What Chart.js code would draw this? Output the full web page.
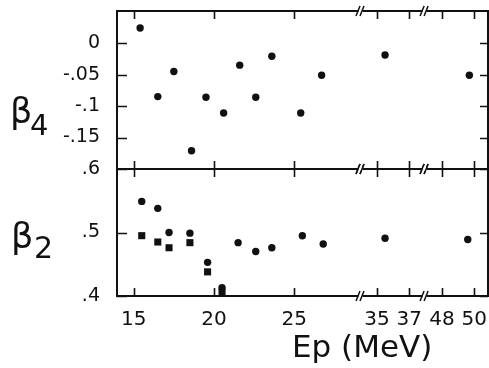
<!DOCTYPE html>
<html><head><meta charset="utf-8">
<script src="https://cdn.jsdelivr.net/npm/chart.js@4"></script>
<style>
html,body{margin:0;padding:0;background:#fff;width:489px;height:368px;overflow:hidden;}
#w{position:relative;width:489px;height:368px;}
canvas{position:absolute;left:0;}
#c1{top:0;}
#c2{top:150px;}
.lbl{position:absolute;font-family:"DejaVu Sans";color:#111;line-height:1;white-space:nowrap;}
</style></head>
<body>
<div id="w">
<canvas id="c1" width="489" height="180"></canvas>
<canvas id="c2" width="489" height="218"></canvas>
<div class="lbl" style="left:10px;top:94px;font-size:35px;">β</div>
<div class="lbl" style="left:30px;top:111px;font-size:29px;">4</div>
<div class="lbl" style="left:11px;top:219px;font-size:35px;">β</div>
<div class="lbl" style="left:34px;top:233px;font-size:30px;">2</div>
<div class="lbl" style="left:292px;top:331px;font-size:31px;">Ep (MeV)</div>
</div>
<script>
// ---- data (Ep in MeV) ----
const b4Energy = [15.4, 16.5, 17.5, 18.6, 19.5, 20.6, 21.6, 22.6, 23.6, 25.4, 26.7, 35.5, 49.7];
const b4Values = [0.024, -0.085, -0.045, -0.171, -0.086, -0.111, -0.035, -0.086, -0.021, -0.111, -0.051, -0.019, -0.051];
const b2CircleEnergy = [15.5, 16.5, 17.2, 18.5, 19.6, 20.5, 21.5, 22.6, 23.6, 25.5, 26.8, 35.5, 49.6];
const b2CircleValues = [0.549, 0.538, 0.500, 0.499, 0.453, 0.413, 0.484, 0.470, 0.476, 0.495, 0.482, 0.491, 0.489];
const b2SquareEnergy = [15.5, 16.5, 17.2, 18.5, 19.6, 20.5];
const b2SquareValues = [0.495, 0.485, 0.476, 0.484, 0.438, 0.406];
const xTickLabels = [15, 20, 25, 35, 37, 48, 50];
const b4Ticks = [-0.15, -0.1, -0.05, 0];
const b2Ticks = [0.4, 0.5, 0.6];

// broken-axis mapping (Ep -> axis coordinate)
function axisPos(E) {
  if (E <= 30) return E;
  if (E <= 40) return E - 4.85;
  return E - 13.8;
}
const breakMarks = [29.09, 33.08];
const X_MIN = 13.96, X_MAX = 37.06;
const INK = '#111';

function fmtTick(v) {
  if (v === 0) return '0';
  const s = String(Math.abs(+v.toFixed(3))).replace(/^0/, '');
  return (v < 0 ? '-' : '') + s;
}
function noPad(s) { s.paddingTop = 0; s.paddingBottom = 0; s.paddingLeft = 0; s.paddingRight = 0; }

const framePlugin = {
  id: 'frame',
  afterDraw(chart) {
    const {ctx, chartArea: a, scales: {x, y}} = chart;
    ctx.save();
    ctx.strokeStyle = INK;
    ctx.lineWidth = 1.6;
    y.ticks.forEach(t => {
      const py = Math.round(y.getPixelForValue(t.value)) + 0.5;
      ctx.beginPath();
      ctx.moveTo(a.left, py); ctx.lineTo(a.left + 10, py);
      ctx.moveTo(a.right - 8, py); ctx.lineTo(a.right, py);
      ctx.stroke();
    });
    xTickLabels.forEach(E => {
      const px = Math.round(x.getPixelForValue(axisPos(E))) + 0.5;
      ctx.beginPath();
      ctx.moveTo(px, a.top); ctx.lineTo(px, a.top + 8);
      ctx.moveTo(px, a.bottom - 8); ctx.lineTo(px, a.bottom);
      ctx.stroke();
    });
    ctx.lineWidth = 2;
    ctx.strokeRect(a.left, a.top, a.width, a.height);
    breakMarks.forEach(u => {
      const px = x.getPixelForValue(u);
      [a.top, a.bottom].forEach(py => {
        ctx.fillStyle = '#fff';
        ctx.fillRect(px - 1.5, py - 2, 4, 4);
        ctx.lineWidth = 1.5;
        ctx.beginPath();
        ctx.moveTo(px - 4, py + 5); ctx.lineTo(px, py - 5);
        ctx.moveTo(px, py + 5); ctx.lineTo(px + 4, py - 5);
        ctx.stroke();
      });
    });
    ctx.restore();
  }
};

function pts(es, vs) { return es.map((e, i) => ({x: axisPos(e), y: vs[i]})); }

function yScale(min, max, ticks) {
  return {
    type: 'linear', min, max,
    grid: {display: false}, border: {display: false},
    afterBuildTicks: s => { s.ticks = ticks.map(v => ({value: v})); },
    afterFit: s => { s.width = 117; noPad(s); },
    ticks: {
      padding: 9, color: INK,
      font: {family: 'DejaVu Sans', size: 19},
      callback: v => fmtTick(v)
    }
  };
}

Chart.defaults.animation = false;

new Chart(document.getElementById('c1'), {
  type: 'scatter',
  data: {datasets: [{
    data: pts(b4Energy, b4Values),
    pointStyle: 'circle', pointRadius: 3.7, pointBorderWidth: 0,
    backgroundColor: INK, borderColor: INK
  }]},
  options: {
    responsive: false, devicePixelRatio: 1,
    layout: {autoPadding: false, padding: {top: 11, right: 1, bottom: 11, left: 0}},
    plugins: {legend: {display: false}, tooltip: {enabled: false}},
    scales: {
      x: {type: 'linear', min: X_MIN, max: X_MAX, display: false},
      y: yScale(-0.2, 0.051, b4Ticks)
    }
  },
  plugins: [framePlugin]
});

new Chart(document.getElementById('c2'), {
  type: 'scatter',
  data: {datasets: [
    {data: pts(b2CircleEnergy, b2CircleValues), pointStyle: 'circle', pointRadius: 3.7,
     pointBorderWidth: 0, backgroundColor: INK, borderColor: INK},
    {data: pts(b2SquareEnergy, b2SquareValues), pointStyle: 'rect', pointRadius: 5,
     pointBorderWidth: 0, backgroundColor: INK, borderColor: INK}
  ]},
  options: {
    responsive: false, devicePixelRatio: 1,
    layout: {autoPadding: false, padding: {top: 19, right: 1, bottom: 0, left: 0}},
    plugins: {legend: {display: false}, tooltip: {enabled: false}},
    scales: {
      x: {
        type: 'linear', min: X_MIN, max: X_MAX,
        grid: {display: false}, border: {display: false},
        afterBuildTicks: s => { s.ticks = xTickLabels.map(E => ({value: axisPos(E)})); },
        afterFit: s => { s.height = 72; noPad(s); },
        ticks: {
          padding: 4, color: INK, autoSkip: false, maxRotation: 0,
          font: {family: 'DejaVu Sans', size: 20},
          callback: (v, i) => String(xTickLabels[i])
        }
      },
      y: yScale(0.4, 0.6, b2Ticks)
    }
  },
  plugins: [framePlugin]
});
</script>
</body></html>
